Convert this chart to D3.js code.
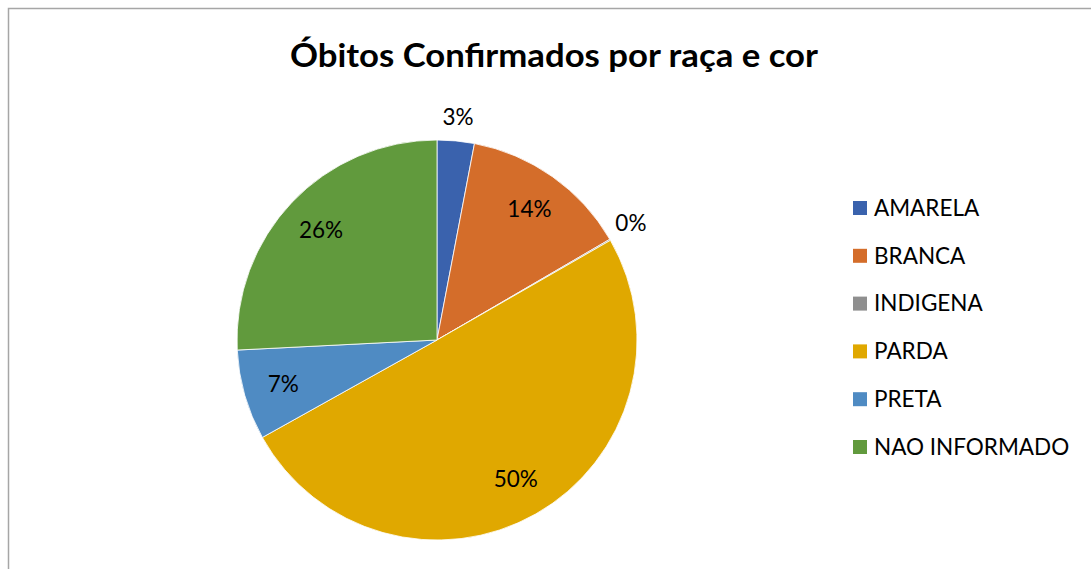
<!DOCTYPE html>
<html><head><meta charset="utf-8">
<script src="https://cdn.jsdelivr.net/npm/d3@7"></script>
<style>body{margin:0;background:#fff}svg{display:block}text{font-family:Lato,"Open Sans",sans-serif}</style>
</head><body>
<svg id="c" width="1091" height="569"></svg>
<script>
const categories = ["AMARELA","BRANCA","INDIGENA","PARDA","PRETA","NAO INFORMADO"];
const values = [3.0, 13.6, 0.1, 50.2, 7.3, 25.8];
const colors = ["#3A62AD","#D46D2A","#8F8F8F","#E0A800","#4F8BC3","#619A3D"];
const labelOutside = [true,false,true,false,false,false];
const title = "Óbitos Confirmados por raça e cor";

const svg = d3.select("#c");
svg.append("path").attr("d","M8.5,569 V8.5 H1091").attr("fill","none").attr("stroke","#a6a6a6").attr("stroke-width",1.5);
svg.append("text").attr("x",554).attr("y",67).attr("text-anchor","middle")
  .attr("font-size",33).attr("font-weight","bold").attr("fill","#000")
  .attr("textLength",528).attr("lengthAdjust","spacingAndGlyphs").text(title);

const cx=437, cy=340, R=200;
const data = categories.map((c,i)=>({c,v:values[i],col:colors[i],out:labelOutside[i]}));
const pie = d3.pie().value(d=>d.v).sort(null);
const arcs = pie(data);
const arc = d3.arc().innerRadius(0).outerRadius(R);
const inArc = d3.arc().innerRadius(R*0.8).outerRadius(R*0.8);
const outArc = d3.arc().innerRadius(R*1.12).outerRadius(R*1.12);
const g = svg.append("g").attr("transform",`translate(${cx},${cy})`);
g.selectAll("path.s").data(arcs).join("path").attr("class","s")
  .attr("d",arc).attr("fill",d=>d.data.col).attr("stroke","#fff").attr("stroke-width",0.8);
const total = d3.sum(values);
g.selectAll("text.l").data(arcs).join("text").attr("class","l")
  .attr("transform",d=>{const p=(d.data.out?outArc:inArc).centroid(d); return `translate(${p[0]},${p[1]-(d.data.out&&d.index>0?5:0)})`;})
  .attr("text-anchor","middle").attr("dy","0.35em").attr("font-size",22.5).attr("fill","#000")
  .text(d=>Math.round(d.data.v/total*100)+"%");

const leg = svg.append("g");
const ly = d3.scalePoint().domain(categories).range([208,447]);
categories.forEach((c,i)=>{
  leg.append("rect").attr("x",853).attr("y",ly(c)-7).attr("width",14).attr("height",14).attr("fill",colors[i]);
  leg.append("text").attr("x",874).attr("y",ly(c)).attr("dy","0.35em").attr("font-size",22.5).attr("fill","#000").text(c);
});
</script>
</body></html>
